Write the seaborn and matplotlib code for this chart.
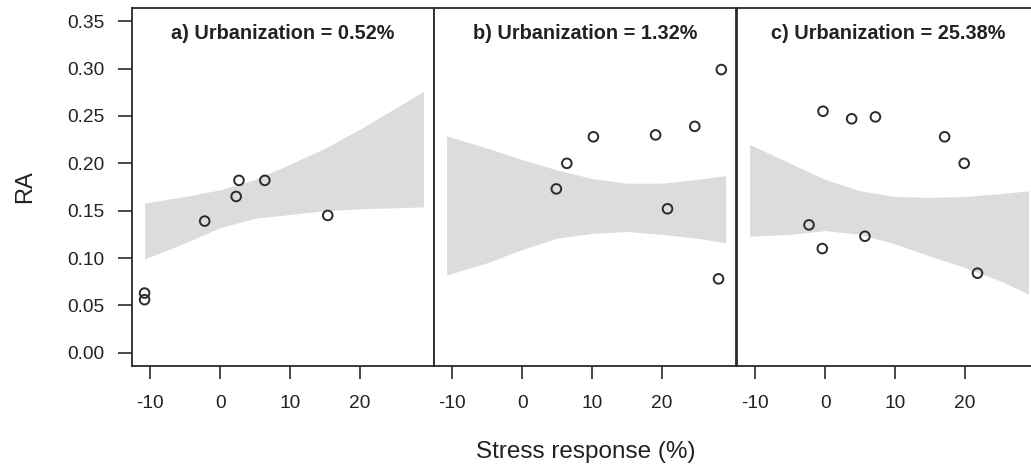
import matplotlib
matplotlib.use("Agg")
import matplotlib.pyplot as plt
import seaborn as sns
import pandas as pd

# ---- data ----
titles = ["a) Urbanization = 0.52%", "b) Urbanization = 1.32%", "c) Urbanization = 25.38%"]

a_x = [-10.8, -10.8, -2.2, 2.3, 2.7, 6.4, 15.4]
a_y = [0.063, 0.056, 0.139, 0.165, 0.182, 0.182, 0.145]

b_x = [4.9, 6.4, 10.2, 19.1, 20.8, 24.7, 28.1, 28.5]
b_y = [0.173, 0.200, 0.228, 0.230, 0.152, 0.239, 0.078, 0.299]

c_x = [-2.3, -0.4, -0.3, 3.8, 5.7, 7.2, 17.1, 19.9, 21.8]
c_y = [0.135, 0.110, 0.255, 0.247, 0.123, 0.249, 0.228, 0.200, 0.084]

band_x = [-10.8, -5, 0, 5, 10, 15, 20, 25, 29.1]
a_lo = [0.099, 0.116, 0.132, 0.142, 0.146, 0.150, 0.152, 0.153, 0.154]
a_hi = [0.158, 0.165, 0.172, 0.183, 0.199, 0.216, 0.236, 0.258, 0.276]
b_lo = [0.082, 0.095, 0.109, 0.121, 0.126, 0.128, 0.125, 0.121, 0.116]
b_hi = [0.229, 0.216, 0.204, 0.193, 0.184, 0.179, 0.179, 0.183, 0.187]
c_lo = [0.123, 0.125, 0.129, 0.125, 0.115, 0.102, 0.090, 0.076, 0.062]
c_hi = [0.220, 0.200, 0.183, 0.171, 0.165, 0.164, 0.165, 0.168, 0.171]

x_ticks = [-10, 0, 10, 20]
y_ticks = [0.00, 0.05, 0.10, 0.15, 0.20, 0.25, 0.30, 0.35]

# ---- styling ----
sns.set_style("white")
plt.rcParams["font.family"] = ["Liberation Sans", "DejaVu Sans"]
plt.rcParams["axes.unicode_minus"] = False

W, H = 1031, 468
fig = plt.figure(figsize=(W / 100, H / 100), dpi=100)

panels = [
    (a_x, a_y, a_lo, a_hi),
    (b_x, b_y, b_lo, b_hi),
    (c_x, c_y, c_lo, c_hi),
]
lefts = [132, 434, 737]
pw, top, bottom = 302, 8, 366
frame_col = "#2a2a2a"

for i, ((px, py, lo, hi), left) in enumerate(zip(panels, lefts)):
    ax = fig.add_axes([left / W, (H - bottom) / H, pw / W, (bottom - top) / H])
    ax.fill_between(band_x, lo, hi, color="#dcdcdc", linewidth=0, zorder=1)
    df = pd.DataFrame({"x": px, "y": py})
    sns.scatterplot(data=df, x="x", y="y", ax=ax, marker="o", s=48,
                    facecolor="none", edgecolor="#2b2b2b", linewidth=1.4, zorder=3)
    ax.set_xlim(-12.6, 30.6)
    ax.set_ylim(-0.014, 0.364)
    ax.set_xticks(x_ticks)
    ax.set_xticklabels([str(t) for t in x_ticks])
    ax.tick_params(axis="x", direction="out", length=9, width=1.2, color=frame_col,
                   labelsize=13.8, pad=12, labelcolor="#222222", bottom=True)
    if i == 0:
        ax.set_yticks(y_ticks)
        ax.set_yticklabels([f"{t:.2f}" for t in y_ticks])
        ax.tick_params(axis="y", direction="out", length=10, width=1.2, color=frame_col,
                       labelsize=13.8, pad=10, labelcolor="#222222", left=True)
    else:
        ax.set_yticks([])
    ax.set_xlabel("")
    ax.set_ylabel("")
    for s in ax.spines.values():
        s.set_visible(True)
        s.set_color(frame_col)
        s.set_linewidth(1.3)
    ax.text(0.5, 0.93, titles[i], transform=ax.transAxes, ha="center", va="center",
            fontsize=14.3, fontweight="bold", color="#222222")

fig.text(25 / W, 1 - 187 / H, "RA", rotation=90, ha="center", va="center",
         fontsize=17, color="#222222")
fig.text(586 / W, 1 - 452 / H, "Stress response (%)", ha="center", va="center",
         fontsize=17.5, color="#222222")

fig.savefig("out.png", dpi=100, facecolor="white")
